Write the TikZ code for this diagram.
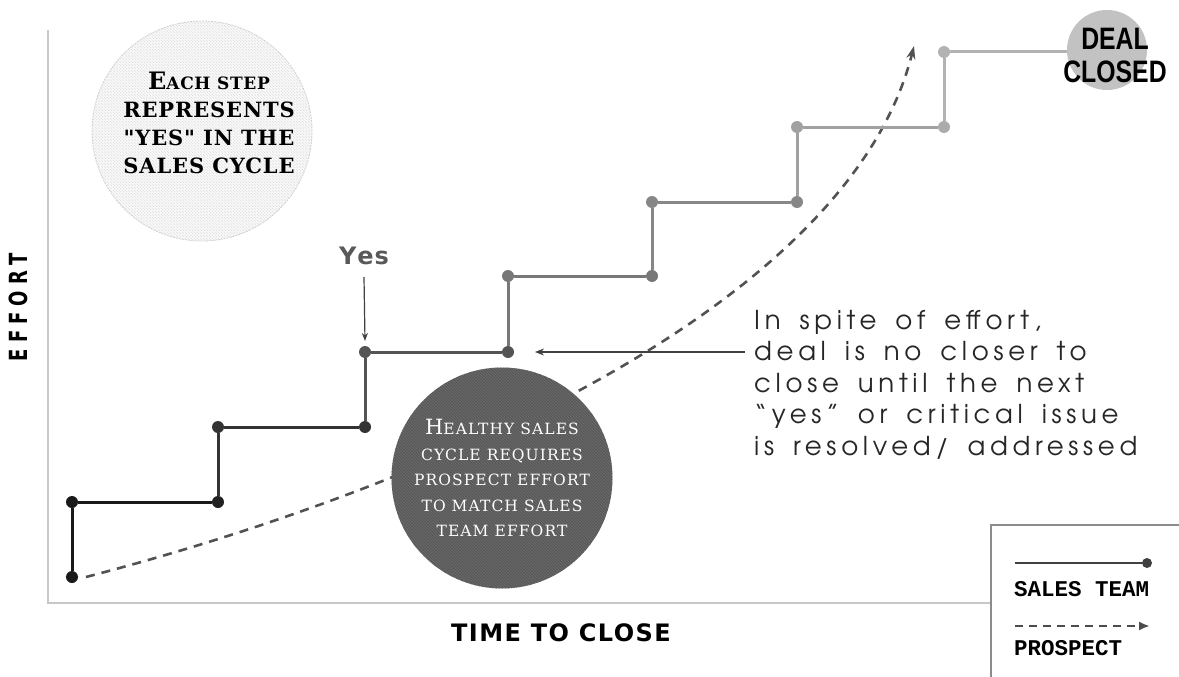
\documentclass[tikz,border=0pt]{standalone}
\usepackage{fontspec}
\usepackage{graphicx}
\usetikzlibrary{patterns,arrows.meta}
\newfontfamily\slabfont[LetterSpace=4]{DejaVu Serif}
\newfontfamily\darkslab[LetterSpace=7]{DejaVu Serif}
\IfFontExistsTF{texgyreadventor-regular.otf}
  {\newfontfamily\gothfont[LetterSpace=18,WordSpace=1.6]{texgyreadventor-regular.otf}}
  {\newfontfamily\gothfont[LetterSpace=24]{Poppins}}
\newfontfamily\axisfont{DejaVu Sans}
\newfontfamily\xfont[LetterSpace=6]{DejaVu Sans}
\newfontfamily\typefont{Liberation Mono}
\newfontfamily\dealfont{Liberation Sans}
\newcommand\capsz[2]{{\fontsize{#1}{#1}\selectfont #2}}
\definecolor{axisgray}{HTML}{C8C8C8}
\definecolor{darkfill}{HTML}{5A5A5A}
\definecolor{darkstripe}{HTML}{6E6E6E}
\tikzset{
  stepdot/.style={circle, inner sep=0pt, minimum size=12pt, fill=#1},
  stepline/.style={line width=3pt, draw=#1},
  axisline/.style={line width=2pt, draw=axisgray},
  prospect/.style={line width=2.6pt, draw=#1, dash pattern=on 9pt off 7pt},
  pointer/.style={line width=1.4pt, draw=black!75, -{Stealth[length=9pt,width=7pt]}},
}
\begin{document}
\begin{tikzpicture}[x=1pt,y=-1pt]
\useasboundingbox (0,0) rectangle (1179,677);
% axes
\coordinate (ytop) at (48,30);
\coordinate (orig) at (48,603);
\coordinate (xend) at (991,603);
\draw[axisline] (ytop) -- (orig) -- (xend);
\node[rotate=90, font=\axisfont\bfseries\fontsize{25}{25}\selectfont] (ylab) at (18,307) {\scalebox{0.72}[1]{E\,\,F\,\,F\,\,O\,\,R\,\,T}};
\node[font=\xfont\bfseries\fontsize{24}{24}\selectfont] (xlab) at (561,633) {TIME TO CLOSE};

% light circle
\node[circle, minimum size=220pt, draw=black!18, dash pattern=on 2pt off 1pt, line width=0.8pt,
      preaction={fill=black!2}, pattern=north west lines, pattern color=black!12] (light) at (202,131) {};
\node[align=center, font=\slabfont\bfseries\fontsize{21}{28}\selectfont] (lighttext) at (209,123)
  {\capsz{24}{E}\capsz{17}{ACH STEP}\\REPRESENTS\\"YES" IN THE\\SALES CYCLE};

% prospect curve
\coordinate (p0) at (86,577);
\coordinate (p1) at (914,46);
\draw[prospect=black!68, -{Stealth[length=13pt,width=9pt]}] (p0) .. controls (450,482) and (850,300) .. (p1);

% dark circle
\node[circle, minimum size=221pt, fill=darkfill, postaction={pattern=north west lines, pattern color=darkstripe}] (dark) at (502,478) {};
\node[text=white, align=center, font=\darkslab\fontsize{15.5}{25.5}\selectfont] (darktext) at (dark)
  {\capsz{21}{H}EALTHY SALES\\CYCLE REQUIRES\\PROSPECT EFFORT\\TO MATCH SALES\\TEAM EFFORT};

% steps
\node[stepdot=black!90] (s0) at (72,577) {};
\node[stepdot=black!90] (s1) at (72,502) {};
\node[stepdot=black!87] (s2) at (218,502) {};
\node[stepdot=black!80] (s3) at (218,427) {};
\node[stepdot=black!80] (s4) at (365,427) {};
\node[stepdot=black!67] (s5) at (365,352) {};
\node[stepdot=black!67] (s6) at (508,352) {};
\node[stepdot=black!53] (s7) at (508,276) {};
\node[stepdot=black!53] (s8) at (652,276) {};
\node[stepdot=black!47] (s9) at (652,202) {};
\node[stepdot=black!47] (s10) at (797,202) {};
\node[stepdot=black!37] (s11) at (797,127) {};
\node[stepdot=black!33] (s12) at (944,127) {};
\node[stepdot=black!30] (s13) at (944,52) {};

\node[circle, minimum size=80pt, fill=black!24, inner sep=0pt] (deal) at (1107,50) {};
\node[align=center, inner sep=0pt, font=\dealfont\bfseries\fontsize{31}{33}\selectfont] (dealtext) at (1115,55)
  {\scalebox{0.8}[1]{DEAL}\\\scalebox{0.8}[1]{CLOSED}};

\draw[stepline=black!90] (s0) -- (s1) -- (s2);
\draw[stepline=black!80] (s2) -- (s3) -- (s4);
\draw[stepline=black!67] (s4) -- (s5) -- (s6);
\draw[stepline=black!53] (s6) -- (s7) -- (s8);
\draw[stepline=black!47] (s8) -- (s9) -- (s10);
\draw[stepline=black!37] (s10) -- (s11) -- (s12);
\draw[stepline=black!30] (s12) -- (s13) -- (s13 -| deal.west);

% Yes label
\node[font=\axisfont\bfseries\fontsize{24}{24}\selectfont, text=black!65] (yes) at (364,256) {Y\kern1pt e\kern1pt s};
\coordinate (yesend) at (365,341);
\draw[pointer, line width=1.2pt, -{Stealth[length=8pt,width=6pt]}] (yes.south |- 0,277) -- (yesend);

% annotation
\node[anchor=north west, align=left, inner sep=0pt, text=black!85,
      font=\gothfont\fontsize{26}{31.5}\selectfont] (note) at (754,310)
  {In spite of effort,\\deal is no closer to\\close until the next\\“yes” or critical issue\\is resolved/ addressed};
\coordinate (notestart) at (745,352);
\coordinate (noteend) at (535,352);
\draw[pointer] (notestart) -- (noteend);

% legend
\coordinate (lgA) at (991,525);
\coordinate (lgB) at (1190,690);
\draw[line width=1.6pt, draw=black!45] (lgA) rectangle (lgB);
\coordinate (lg1a) at (1015,563);
\node[stepdot=black!75, minimum size=10pt] (lg1b) at (1147,563) {};
\draw[line width=1.5pt, draw=black!75] (lg1a) -- (lg1b);
\node[anchor=west, inner sep=0pt, font=\typefont\bfseries\fontsize{22.5}{22.5}\selectfont] (lgt1) at (1014,589) {SALES TEAM};
\coordinate (lg2a) at (1015,626);
\coordinate (lg2b) at (1150,626);
\draw[line width=2.8pt, draw=black!70, dash pattern=on 8pt off 6pt, -{Latex[length=11pt,width=9pt]}] (lg2a) -- (lg2b);
\node[anchor=west, inner sep=0pt, font=\typefont\bfseries\fontsize{22.5}{22.5}\selectfont] (lgt2) at (1014,648) {PROSPECT};
\end{tikzpicture}
\end{document}
